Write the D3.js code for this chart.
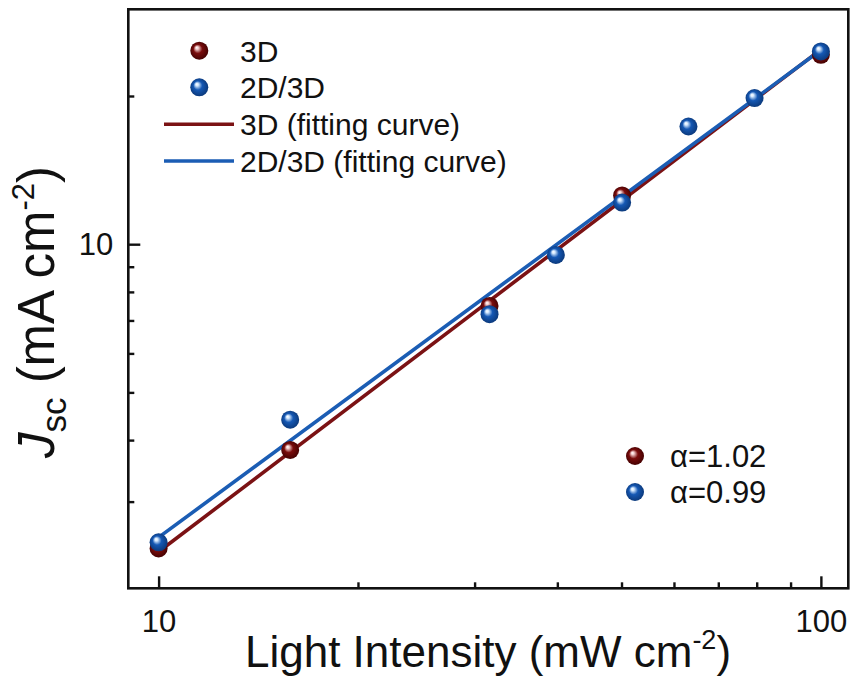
<!DOCTYPE html>
<html>
<head>
<meta charset="utf-8">
<script src="https://cdn.jsdelivr.net/npm/d3@7"></script>
<style>
  body { margin: 0; background: #fff; }
  svg text { font-family: "Liberation Sans", Arial, sans-serif; fill: #111; }
</style>
</head>
<body>
<svg id="chart" width="854" height="684"></svg>
<script>
// Light-intensity dependence of Jsc for the two devices
const intensity3D   = [10, 15.8, 31.6, 50.1, 100];
const jsc3D         = [2.41, 3.82, 7.49, 12.56, 24.25];
const intensity2D3D = [10, 15.8, 31.6, 39.8, 50.1, 63.1, 79.4, 100];
const jsc2D3D       = [2.48, 4.40, 7.21, 9.51, 12.15, 17.34, 19.81, 24.63];

const seriesNames  = ["3D", "2D/3D"];
const fitNames     = ["3D (fitting curve)", "2D/3D (fitting curve)"];
const alphaValues  = [1.02, 0.99];

const xMajorTicks = [10, 100];
const xMinorTicks = [20, 30, 40, 50, 60, 70, 80, 90];
const yMajorTicks = [10];
const yMinorTicks = [3, 4, 5, 6, 7, 8, 9, 20];

const plot = { left: 128.3, right: 848.3, top: 9.3, bottom: 588.3 };
const colors = {
  red:  { line: "#7b1214", base: "#7a0c0c", dark: "#3e0000", light: "#f4d0d0" },
  blue: { line: "#1b5db4", base: "#1558b4", dark: "#0a3574", light: "#d8ebff" }
};

const svg = d3.select("#chart");

const x = d3.scaleLog().domain([9, 110]).range([plot.left, plot.right]);
const y = d3.scaleLog().domain([2, 30]).range([plot.bottom, plot.top]);

// Sphere-like marker fills
const defs = svg.append("defs");
function sphereGradient(id, c) {
  const g = defs.append("radialGradient")
    .attr("id", id).attr("cx", "50%").attr("cy", "50%").attr("r", "55%")
    .attr("fx", "35%").attr("fy", "32%");
  g.append("stop").attr("offset", "0%").attr("stop-color", "#ffffff");
  g.append("stop").attr("offset", "14%").attr("stop-color", c.light);
  g.append("stop").attr("offset", "45%").attr("stop-color", c.base);
  g.append("stop").attr("offset", "100%").attr("stop-color", c.dark);
}
sphereGradient("ballRed", colors.red);
sphereGradient("ballBlue", colors.blue);

const series = [
  { key: "red",  xs: intensity3D,   ys: jsc3D,   alpha: alphaValues[0], fill: "url(#ballRed)" },
  { key: "blue", xs: intensity2D3D, ys: jsc2D3D, alpha: alphaValues[1], fill: "url(#ballBlue)" }
];

// Power-law fit J = A * I^alpha; log-intercept from least squares with alpha fixed
series.forEach(s => {
  const b = d3.mean(s.xs.map((xi, i) => Math.log10(s.ys[i]) - s.alpha * Math.log10(xi)));
  const ext = d3.extent(s.xs);
  s.fit = ext.map(xi => [xi, Math.pow(10, b) * Math.pow(xi, s.alpha)]);
});

// Fitting lines
const line = d3.line().x(d => x(d[0])).y(d => y(d[1]));
series.forEach(s => {
  svg.append("path").attr("d", line(s.fit))
    .attr("fill", "none").attr("stroke", colors[s.key].line)
    .attr("stroke-width", 3.6).attr("stroke-linecap", "round");
});

// Data points
const R = 9;
series.forEach(s => {
  svg.append("g").selectAll("circle")
    .data(s.xs.map((xi, i) => [xi, s.ys[i]]))
    .join("circle")
    .attr("cx", d => x(d[0])).attr("cy", d => y(d[1]))
    .attr("r", R).attr("fill", s.fill);
});

// Frame (left/bottom axes plus closing top/right lines)
svg.append("rect")
  .attr("x", plot.left).attr("y", plot.top)
  .attr("width", plot.right - plot.left).attr("height", plot.bottom - plot.top)
  .attr("fill", "none").attr("stroke", "#111").attr("stroke-width", 2.6);

// Inward ticks on the bottom axis
const xAxisMajor = d3.axisBottom(x).tickValues(xMajorTicks).tickSizeInner(-12).tickSizeOuter(0)
  .tickFormat(d3.format("d")).tickPadding(22);
const xAxisMinor = d3.axisBottom(x).tickValues(xMinorTicks).tickSizeInner(-6).tickSizeOuter(0)
  .tickFormat("");
const gxMinor = svg.append("g").attr("transform", `translate(0,${plot.bottom})`).call(xAxisMinor);
const gxMajor = svg.append("g").attr("transform", `translate(0,${plot.bottom})`).call(xAxisMajor);
[gxMinor, gxMajor].forEach(g => {
  g.select(".domain").remove();
  g.selectAll(".tick line").attr("stroke", "#111").attr("stroke-width", 2.4);
});
gxMajor.selectAll(".tick text").attr("font-size", 31).attr("fill", "#111")
  .attr("dy", "0.71em");

// Inward ticks on the left axis
const yAxisMajor = d3.axisLeft(y).tickValues(yMajorTicks).tickSizeInner(-12).tickSizeOuter(0)
  .tickFormat(d3.format("d")).tickPadding(15);
const yAxisMinor = d3.axisLeft(y).tickValues(yMinorTicks).tickSizeInner(-6).tickSizeOuter(0)
  .tickFormat("");
const gyMinor = svg.append("g").attr("transform", `translate(${plot.left},0)`).call(yAxisMinor);
const gyMajor = svg.append("g").attr("transform", `translate(${plot.left},0)`).call(yAxisMajor);
[gyMinor, gyMajor].forEach(g => {
  g.select(".domain").remove();
  g.selectAll(".tick line").attr("stroke", "#111").attr("stroke-width", 2.4);
});
gyMajor.selectAll(".tick text").attr("font-size", 31).attr("fill", "#111");

// Axis titles
const xTitle = svg.append("text")
  .attr("x", 488).attr("y", 667).attr("text-anchor", "middle").attr("font-size", 44);
xTitle.append("tspan").text("Light Intensity (mW cm");
xTitle.append("tspan").attr("dy", -18).attr("font-size", 27).text("-2");
xTitle.append("tspan").attr("dy", 18).text(")");

const yTitle = svg.append("text")
  .attr("transform", `translate(54,312) rotate(-90)`)
  .attr("text-anchor", "middle").attr("font-size", 51);
yTitle.append("tspan").attr("font-style", "italic").text("J");
yTitle.append("tspan").attr("dy", 12).attr("font-size", 35).text("sc");
yTitle.append("tspan").attr("dy", -12).text(" (mA cm");
yTitle.append("tspan").attr("dy", -20).attr("font-size", 31).text("-2");
yTitle.append("tspan").attr("dy", 20).text(")");

// Legend: markers and fitting curves
const legend = svg.append("g").attr("font-size", 30);
const legendRows = [
  { type: "ball", fill: "url(#ballRed)",  label: seriesNames[0], y: 50.7 },
  { type: "ball", fill: "url(#ballBlue)", label: seriesNames[1], y: 87.3 },
  { type: "line", stroke: colors.red.line,  label: fitNames[0], y: 124.3 },
  { type: "line", stroke: colors.blue.line, label: fitNames[1], y: 161 }
];
legendRows.forEach(r => {
  if (r.type === "ball") {
    legend.append("circle").attr("cx", 199.3).attr("cy", r.y).attr("r", R).attr("fill", r.fill);
  } else {
    legend.append("line").attr("x1", 164).attr("x2", 234).attr("y1", r.y).attr("y2", r.y)
      .attr("stroke", r.stroke).attr("stroke-width", 3.6);
  }
  legend.append("text").attr("x", 240).attr("y", r.y).attr("dy", "0.36em").text(r.label);
});

// Exponent legend
const alphaLegend = svg.append("g").attr("font-size", 31);
[{ fill: "url(#ballRed)", a: alphaValues[0], y: 456 },
 { fill: "url(#ballBlue)", a: alphaValues[1], y: 492 }].forEach(r => {
  alphaLegend.append("circle").attr("cx", 635).attr("cy", r.y).attr("r", R).attr("fill", r.fill);
  alphaLegend.append("text").attr("x", 670).attr("y", r.y).attr("dy", "0.36em")
    .text("α=" + d3.format(".2f")(r.a));
});
</script>
</body>
</html>
